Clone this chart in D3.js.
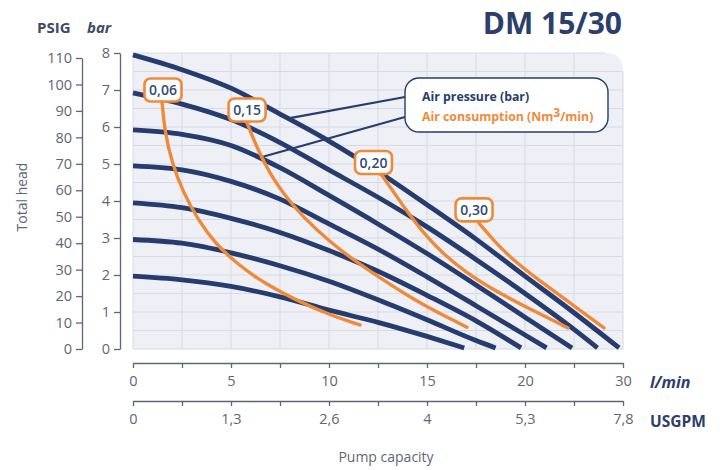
<!DOCTYPE html>
<html><head><meta charset="utf-8">
<script src="https://cdn.jsdelivr.net/npm/d3@7"></script>
<style>
html,body{margin:0;padding:0;background:#fff;}
svg{display:block;font-family:"Open Sans","Noto Sans",sans-serif;}
</style></head>
<body><svg id="c" width="726" height="470"></svg>
<script>
// ---- data ----
const title = "DM 15/30";
const barTicks = [0,1,2,3,4,5,6,7,8];
const psiTicks = [0,10,20,30,40,50,60,70,80,90,100,110];
const flowTickVals = [0,2.5,5,7.5,10,12.5,15,17.5,20,22.5,25];
const flowLabels = ["0","5","10","15","20","30"];      // l/min labels at the major ticks
const gpmLabels = ["0","1,3","2,6","4","5,3","7,8"];   // USGPM labels at the major ticks
const majorVals = [0,5,10,15,20,25];

// air pressure curves: [l/min, bar]
const p8 = [[0,7.95],[2.5,7.55],[5,7.05],[7.5,6.35],[10,5.62],[12.5,4.8],[15,3.9],[17.5,2.97],[20,1.97],[22.5,0.98],[24.8,0.03]];
const p7 = [[0,6.92],[2.5,6.62],[5,6.2],[7.5,5.58],[10,4.84],[12.5,4.1],[15,3.3],[17.5,2.42],[20,1.5],[22.5,0.53],[23.7,0.03]];
const p6 = [[0,5.92],[2.5,5.8],[5,5.5],[7.5,4.9],[10,4.15],[12.5,3.38],[15,2.58],[17.5,1.73],[20,0.86],[22.4,0.03]];
const p5 = [[0,4.95],[2.5,4.84],[5,4.53],[7.5,4.05],[10,3.38],[12.5,2.7],[15,1.95],[17.5,1.17],[20,0.38],[21.1,0.03]];
const p4 = [[0,3.95],[2.5,3.82],[5,3.53],[7.5,3.15],[10,2.66],[12.5,2.1],[15,1.45],[17.5,0.76],[19.8,0.03]];
const p3 = [[0,2.96],[2.5,2.86],[5,2.6],[7.5,2.25],[10,1.83],[12.5,1.33],[15,0.79],[17.5,0.23],[18.5,0.03]];
const p2 = [[0,1.97],[2.5,1.87],[5,1.69],[7.5,1.41],[10,1.05],[12.5,0.72],[15,0.34],[16.9,0.03]];
const pressureCurves = [p8,p7,p6,p5,p4,p3,p2];

// air consumption curves: [l/min, bar]
const c006 = [[1.48,6.68],[1.63,5.84],[1.99,5.03],[2.55,4.24],[3.32,3.49],[4.18,2.86],[5.31,2.30],[6.73,1.76],[8.52,1.27],[10.05,0.92],[11.58,0.65]];
const c015 = [[5.82,6.11],[6.33,5.43],[6.99,4.73],[7.76,4.14],[8.67,3.57],[10.05,2.89],[11.33,2.38],[12.6,1.92],[14.29,1.35],[15.66,0.95],[17.04,0.59]];
const c020 = [[12.65,4.73],[13.26,4.27],[13.93,3.76],[14.69,3.22],[15.66,2.65],[16.94,2.08],[18.47,1.57],[20.26,1.08],[22.19,0.57]];
const c030 = [[17.65,3.4],[18.42,2.92],[19.44,2.38],[20.71,1.86],[22.24,1.27],[24.03,0.57]];
const consumptionCurves = [c006,c015,c020,c030];
const consumptionLabels = ["0,06","0,15","0,20","0,30"];
const consumptionLabelAt = [[1.53,7.0],[5.82,6.46],[12.27,5.04],[17.4,3.76]];

const legendItems = ["Air pressure (bar)","Air consumption (Nm","3","/min)"];
const leaderFrom = [[8.0,6.24],[6.58,5.19]];

// ---- drawing ----
const navy = "#263c6e", orange = "#ef8a3b", grey = "#5f6678";
const svg = d3.select("#c");
const x = d3.scaleLinear([0,25],[133,623]);
const yB = d3.scaleLinear([0,8],[349,53]);
const yP = d3.scaleLinear([0,110],[349,58]);

// plot background with rounded top-right corner
const L=x(0), R=x(25), T=yB(8), B=yB(0), rr=18;
svg.append("path")
  .attr("d",`M${L},${B}V${T}H${R-rr}Q${R},${T} ${R},${T+rr}V${B}Z`)
  .attr("fill","#eef0f6");
const grid = svg.append("g").attr("stroke","#d6dae4").attr("stroke-width",1);
grid.selectAll("line.v").data(flowTickVals).join("line")
  .attr("x1",d=>x(d)).attr("x2",d=>x(d)).attr("y1",d=>d===25?T+rr:T).attr("y2",B);
grid.selectAll("line.h").data(d3.range(0,8.01,0.5)).join("line")
  .attr("x1",L).attr("x2",d=>d>=7.5?R-rr*(d===8?1:0.1):R).attr("y1",d=>yB(d)).attr("y2",d=>yB(d));

// curves
const lineP = d3.line().x(d=>x(d[0])).y(d=>yB(d[1])).curve(d3.curveMonotoneX);
svg.append("g").selectAll("path").data(pressureCurves).join("path")
  .attr("d",lineP).attr("fill","none").attr("stroke",navy).attr("stroke-width",4.8).attr("stroke-linecap","butt");

// leader lines
const legX=405, legY=78, legW=203, legH=54;
const leaderTo = [[legX, legY+19],[legX, legY+39]];
svg.append("g").selectAll("line").data(leaderFrom).join("line")
  .attr("x1",d=>x(d[0])).attr("y1",d=>yB(d[1]))
  .attr("x2",(d,i)=>leaderTo[i][0]).attr("y2",(d,i)=>leaderTo[i][1])
  .attr("stroke",navy).attr("stroke-width",2.2);

const lineC = d3.line().x(d=>x(d[0])).y(d=>yB(d[1])).curve(d3.curveBasis);
svg.append("g").selectAll("path").data(consumptionCurves).join("path")
  .attr("d",lineC).attr("fill","none").attr("stroke",orange).attr("stroke-width",3.4).attr("stroke-linecap","round");

// consumption labels
const lab = svg.append("g").selectAll("g").data(consumptionLabelAt).join("g")
  .attr("transform",d=>`translate(${x(d[0])},${yB(d[1])})`);
lab.append("rect").attr("x",-18.5).attr("y",-11.5).attr("width",37).attr("height",23).attr("rx",6)
  .attr("fill","#fff").attr("stroke",orange).attr("stroke-width",2.6);
lab.append("text").text((d,i)=>consumptionLabels[i]).attr("text-anchor","middle").attr("y",5)
  .attr("font-size",14).attr("font-weight",600).attr("fill","#34497a");

// legend
svg.append("rect").attr("x",legX).attr("y",legY).attr("width",legW).attr("height",legH).attr("rx",14)
  .attr("fill","#fff").attr("stroke",navy).attr("stroke-width",1.4);
svg.append("text").attr("x",legX+17).attr("y",legY+23).attr("font-size",12.3).attr("font-weight",700)
  .attr("fill",navy).text(legendItems[0]);
const t2 = svg.append("text").attr("x",legX+17).attr("y",legY+43).attr("font-size",12.3).attr("font-weight",700).attr("fill",orange);
t2.append("tspan").text(legendItems[1]);
t2.append("tspan").attr("dy",-4).attr("font-size",12).text(legendItems[2]);
t2.append("tspan").attr("dy",4).text(legendItems[3]);

// y axes
function styleAxis(g){
  g.select(".domain").attr("stroke",grey).attr("stroke-width",1.3);
  g.selectAll(".tick line").attr("stroke",grey).attr("stroke-width",1.3);
  g.selectAll(".tick text").attr("fill",grey).attr("font-size",14.5).attr("font-family","'Open Sans','Noto Sans',sans-serif");
}
svg.append("g").attr("transform","translate(120,0)")
  .call(d3.axisLeft(yB).tickValues(barTicks).tickSize(6).tickSizeOuter(0).tickPadding(4).tickFormat(d3.format("d")))
  .call(styleAxis);
svg.append("g").attr("transform","translate(82,0)")
  .call(d3.axisLeft(yP).tickValues(psiTicks).tickSize(6).tickSizeOuter(0).tickPadding(4).tickFormat(d3.format("d")))
  .call(styleAxis);

// x axes
const lmAxis = d3.axisBottom(x).tickValues(flowTickVals).tickSize(5).tickSizeOuter(0).tickPadding(8)
  .tickFormat(d=>{const i=majorVals.indexOf(d);return i<0?"":flowLabels[i];});
svg.append("g").attr("transform","translate(0,363)").call(lmAxis).call(styleAxis);
const gpmAxis = d3.axisBottom(x).tickValues(flowTickVals).tickSize(5).tickSizeOuter(0).tickPadding(8)
  .tickFormat(d=>{const i=majorVals.indexOf(d);return i<0?"":gpmLabels[i];});
svg.append("g").attr("transform","translate(0,401)").call(gpmAxis).call(styleAxis);

// titles
svg.append("text").attr("x",622).attr("y",34).attr("text-anchor","end").attr("font-size",30)
  .attr("font-weight",700).attr("fill","#2c3e6b").text(title);
svg.append("text").attr("x",37).attr("y",33).attr("font-size",15).attr("font-weight",700).attr("fill","#3d4a66").text("PSIG");
svg.append("text").attr("x",87).attr("y",33).attr("font-size",15).attr("font-weight",700).attr("font-style","italic").attr("fill","#3d4a66").text("bar");
svg.append("text").attr("transform","translate(27,197) rotate(-90)").attr("text-anchor","middle")
  .attr("font-size",14).attr("fill",grey).text("Total head");
svg.append("text").attr("x",650).attr("y",388).attr("font-size",16).attr("font-weight",700).attr("font-style","italic").attr("fill","#2c3e6b").text("l/min");
svg.append("text").attr("x",650).attr("y",427).attr("font-size",15.5).attr("font-weight",700).attr("fill","#2c3e6b").text("USGPM");
svg.append("text").attr("x",386).attr("y",462).attr("text-anchor","middle").attr("font-size",14).attr("fill",grey).text("Pump capacity");
</script></body></html>
